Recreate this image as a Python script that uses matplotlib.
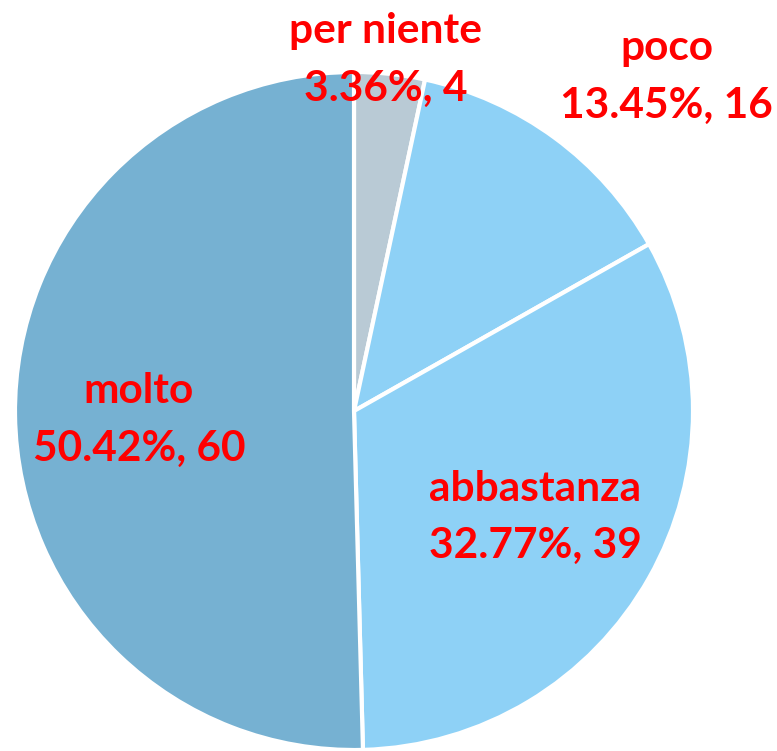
import matplotlib
matplotlib.use("Agg")
import matplotlib.pyplot as plt
import numpy as np

categories = ["per niente", "poco", "abbastanza", "molto"]
counts = [4, 16, 39, 60]
colors = ["#B9CAD5", "#8ED1F6", "#8ED1F6", "#76B1D2"]
# label placement (radius factor, angle in degrees) relative to pie centre
label_pos = [(1.04, 84.8), (1.35, 46.9), (0.62, -30.5), (0.635, 182.4)]

W, H = 777, 751
fig = plt.figure(figsize=(W / 100, H / 100), dpi=100)
ax = fig.add_axes([0, 0, 1, 1])

cx, cy, R = 354, H - 411, 339
ax.pie(counts, colors=colors, startangle=90, counterclock=False,
       center=(cx, cy), radius=R, frame=True,
       wedgeprops=dict(edgecolor="white", linewidth=3.0))
ax.set_xlim(0, W)
ax.set_ylim(0, H)
ax.set_aspect("equal")
ax.axis("off")

total = sum(counts)
for cat, n, (rf, ang) in zip(categories, counts, label_pos):
    a = np.deg2rad(ang)
    x = cx + rf * R * np.cos(a)
    y = cy + rf * R * np.sin(a)
    ax.text(x, y, f"{cat}\n{100 * n / total:.2f}%, {n}", ha="center", va="center",
            color="#FF0000", fontsize=30.5, fontweight="bold", family="Lato",
            linespacing=1.62)

fig.savefig("out.png", dpi=100)
